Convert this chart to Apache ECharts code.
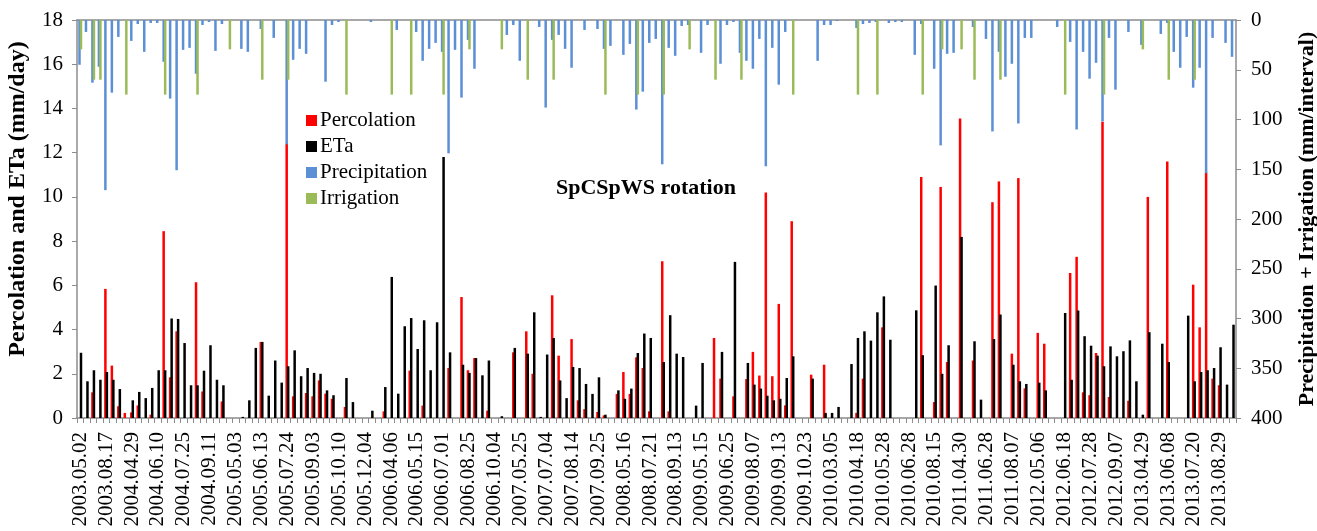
<!DOCTYPE html>
<html>
<head>
<meta charset="utf-8">
<script src="https://cdn.jsdelivr.net/npm/echarts@6/dist/echarts.min.js"></script>
<style>
  html, body { margin: 0; padding: 0; background: #fff; }
  #chart { width: 1317px; height: 531px; }
</style>
</head>
<body>
<div id="chart"></div>
<script>
// dates shown on the x axis (every 4th interval carries a label)
const tickLabels = ['2003.05.02', '2003.08.17', '2004.04.29', '2004.06.10', '2004.07.25', '2004.09.11',
  '2005.05.03', '2005.06.13', '2005.07.24', '2005.09.03', '2005.10.10', '2005.12.04', '2006.04.06',
  '2006.05.15', '2006.07.01', '2006.08.25', '2006.10.04', '2007.05.25', '2007.07.04', '2007.08.14',
  '2007.09.25', '2008.05.16', '2008.07.21', '2008.09.13', '2009.05.15', '2009.06.25', '2009.08.07',
  '2009.09.13', '2009.10.23', '2010.03.05', '2010.04.18', '2010.05.28', '2010.06.28', '2010.08.15',
  '2011.04.30', '2011.06.28', '2011.08.07', '2012.05.06', '2012.06.18', '2012.07.28', '2012.09.07',
  '2013.04.29', '2013.06.08', '2013.07.20', '2013.08.29']
const intervalCount = 179

// mm/day
const percolation = [
  0, 0, 1.16, 0, 5.84, 2.37, 0.53, 0.23, 0.25, 0.57,
  0, 0.15, 0, 8.45, 1.84, 3.92, 0, 0, 6.14, 1.2,
  0, 0, 0.75, 0, 0, 0, 0, 0, 3.44, 0,
  0, 0, 12.4, 0.98, 0, 1.13, 0.98, 1.7, 1.1, 0.87,
  0, 0.5, 0, 0, 0, 0, 0, 0.3, 0, 0,
  0, 2.14, 0, 0.56, 0, 0, 0, 2.26, 0, 5.47,
  2.16, 2.71, 0, 0.33, 0, 0, 0, 2.97, 0, 3.92,
  2.0, 0, 0, 5.55, 2.82, 0, 3.57, 0.8, 0.4, 0,
  0.27, 0.12, 0, 1.09, 2.08, 1.09, 2.74, 2.26, 0.3, 0,
  7.09, 0.3, 0, 0, 0, 0, 0, 0, 3.62, 1.78,
  0, 0.98, 0, 1.76, 2.99, 1.92, 10.2, 1.89, 5.16, 0.57,
  8.9, 0, 0, 1.96, 0, 2.41, 0, 0, 0, 0,
  0.23, 1.78, 0, 0, 4.1, 0, 0, 0, 0, 0,
  10.9, 0, 0.72, 10.45, 2.53, 0, 13.55, 0, 2.6, 0,
  0, 9.76, 10.7, 0, 2.91, 10.85, 1.34, 0, 3.85, 3.36,
  0, 0, 0, 6.56, 7.29, 1.16, 1.03, 2.94, 13.4, 0.95,
  0, 0, 0.78, 0, 0, 10.0, 0, 0, 11.6, 0,
  0, 0, 6.03, 4.1, 11.1, 1.78, 1.48, 0, 0
]
const eta = [
  2.95, 1.66, 2.16, 1.73, 2.08, 1.73, 1.31, 0, 0.8, 1.18,
  0.9, 1.36, 2.16, 2.16, 4.5, 4.48, 3.39, 1.48, 1.48, 2.14,
  3.29, 1.73, 1.48, 0, 0, 0.05, 0.8, 3.17, 3.44, 1.01,
  2.6, 1.6, 2.34, 3.06, 1.89, 2.26, 2.04, 2.0, 1.25, 1.03,
  0, 1.81, 0.72, 0, 0, 0.33, 0, 1.4, 6.38, 1.1,
  4.15, 4.52, 3.12, 4.42, 2.16, 4.33, 11.8, 2.97, 0, 2.41,
  2.04, 2.71, 1.93, 2.6, 0, 0.08, 0, 3.17, 0, 2.91,
  4.78, 0.05, 2.87, 3.62, 1.7, 0.9, 2.31, 2.26, 1.54, 1.09,
  1.84, 0.15, 0, 1.25, 0.87, 1.33, 2.94, 3.82, 3.62, 0,
  2.53, 4.65, 2.91, 2.76, 0, 0.56, 2.49, 0, 0, 2.99,
  0, 7.06, 0, 2.49, 1.51, 1.33, 1.01, 0.8, 0.87, 1.81,
  2.79, 0, 0, 1.78, 0, 0.23, 0.23, 0.5, 0, 2.44,
  3.62, 3.92, 3.5, 4.78, 5.5, 3.54, 0, 0, 0, 4.87,
  2.84, 0, 5.99, 2.0, 3.29, 0, 8.19, 0, 3.47, 0.83,
  0, 3.57, 4.68, 0, 2.41, 1.66, 1.54, 0, 1.6, 1.25,
  0, 0, 4.75, 1.73, 4.86, 3.7, 3.27, 2.82, 2.34, 3.24,
  2.79, 3.02, 3.51, 1.66, 0.15, 3.88, 0, 3.36, 2.53, 0,
  0, 4.63, 1.66, 2.08, 2.16, 2.26, 3.2, 1.51, 4.22
]
// mm/interval
const precipitation = [
  45, 12, 63, 47, 171, 73, 17, 0, 21, 4,
  32, 3, 3, 42, 79, 151, 30, 28, 54, 5,
  2, 31, 4, 0, 0, 29, 32, 0, 9, 0,
  18, 0, 125, 40, 29, 34, 0, 0, 62, 5,
  2, 0, 0, 0, 0, 2, 0, 0, 0, 10,
  0, 0, 12, 41, 29, 23, 32, 134, 30, 78,
  20, 49, 0, 0, 0, 0, 15, 5, 41, 0,
  0, 7, 88, 20, 15, 29, 48, 0, 10, 0,
  9, 29, 26, 0, 35, 24, 90, 72, 23, 19,
  145, 28, 36, 6, 5, 0, 33, 5, 0, 44,
  5, 2, 33, 41, 49, 19, 147, 28, 65, 12,
  0, 0, 0, 0, 41, 5, 5, 1, 0, 0,
  8, 4, 3, 2, 0, 3, 2, 2, 0, 35,
  4, 0, 49, 126, 34, 33, 0, 0, 7, 0,
  19, 112, 32, 57, 44, 104, 18, 18, 0, 0,
  0, 7, 0, 22, 110, 32, 59, 43, 102, 18,
  70, 0, 12, 0, 25, 0, 0, 14, 3, 32,
  48, 17, 68, 48, 154, 18, 0, 23, 37
]
const irrigation = [
  29.5, 0, 60, 60, 0, 0, 0, 75, 0, 0,
  0, 0, 0, 75, 0, 0, 0, 0, 75, 0,
  0, 0, 0, 29.5, 0, 0, 0, 0, 60, 0,
  0, 0, 60, 0, 0, 0, 0, 0, 0, 0,
  0, 75, 0, 0, 0, 0, 0, 0, 75, 0,
  0, 75, 0, 0, 0, 0, 75, 0, 0, 0,
  29.5, 0, 0, 0, 0, 29.5, 0, 0, 0, 60,
  0, 0, 0, 60, 0, 0, 0, 0, 0, 0,
  0, 75, 0, 0, 0, 0, 75, 0, 0, 0,
  75, 0, 0, 0, 29.5, 0, 0, 0, 60, 0,
  0, 0, 60, 0, 0, 0, 0, 0, 0, 0,
  75, 0, 0, 0, 0, 0, 0, 0, 0, 0,
  75, 0, 0, 75, 0, 0, 0, 0, 0, 0,
  75, 0, 0, 29.5, 0, 0, 29.5, 0, 60, 0,
  0, 0, 60, 0, 0, 0, 0, 0, 0, 0,
  0, 0, 75, 0, 0, 0, 0, 0, 75, 0,
  0, 0, 0, 0, 29.5, 0, 0, 0, 60, 0,
  0, 0, 60, 0, 0, 0, 0, 0, 0
]

// one category per interval; only the labelled ones carry a real date
const categories = []
for (let i = 0; i < intervalCount; i++) {
  const k = Math.floor(i / 4)
  categories.push(i % 4 === 0 ? tickLabels[k] : tickLabels[k] + '+' + (i % 4))
}

const serif = 'Liberation Serif'
const axisGray = '#8c8c8c'

const chart = echarts.init(document.getElementById('chart'))
chart.setOption({
  animation: false,
  textStyle: { fontFamily: serif, color: '#000' },
  title: {
    text: 'SpCSpWS rotation',
    left: 551,
    top: 172,
    textStyle: { fontFamily: serif, fontSize: 22, fontWeight: 'bold', color: '#000' }
  },
  legend: {
    orient: 'vertical',
    left: 301,
    top: 105,
    itemWidth: 11,
    itemHeight: 11,
    itemGap: 5,
    icon: 'rect',
    textStyle: { fontFamily: serif, fontSize: 21, color: '#000', padding: [0, 0, 0, -2] },
    data: ['Percolation', 'ETa', 'Precipitation', 'Irrigation']
  },
  // keep the plot box fixed even though the axis names reach the page edge
  grid: { left: 77, right: 81, top: 20, bottom: 113, containLabel: false, outerBoundsMode: 'none' },
  xAxis: [{
    type: 'category',
    data: categories,
    boundaryGap: true,
    axisLine: { lineStyle: { color: axisGray, width: 1.5 } },
    axisTick: { show: true, interval: 0, length: 5, lineStyle: { color: axisGray } },
    axisLabel: {
      interval: 3,
      rotate: 90,
      margin: 14,
      fontFamily: serif,
      fontSize: 21,
      color: '#000'
    },
    splitLine: { show: false }
  }, {
    type: 'category',
    data: categories,
    position: 'top',
    boundaryGap: true,
    axisLine: { lineStyle: { color: axisGray, width: 1.5 } },
    axisTick: { show: false },
    axisLabel: { show: false },
    splitLine: { show: false }
  }],
  yAxis: [{
    type: 'value',
    min: 0,
    max: 18,
    interval: 2,
    name: 'Percolation and ETa (mm/day)',
    nameLocation: 'middle',
    nameRotate: 90,
    nameGap: 47,
    nameTextStyle: { fontFamily: serif, fontSize: 24, fontWeight: 'bold', color: '#000', padding: [0, 0, 0, 40] },
    axisLine: { show: true, lineStyle: { color: axisGray, width: 1.5 } },
    axisTick: { show: true, length: 5, lineStyle: { color: axisGray } },
    axisLabel: { margin: 14, fontFamily: serif, fontSize: 21, color: '#000' },
    splitLine: { show: false }
  }, {
    type: 'value',
    min: 0,
    max: 400,
    interval: 50,
    inverse: true,
    position: 'right',
    name: 'Precipitation + Irrigation (mm/interval)',
    nameLocation: 'middle',
    nameRotate: 90,
    nameGap: 60,
    nameTextStyle: { fontFamily: serif, fontSize: 22, fontWeight: 'bold', color: '#000' },
    axisLine: { show: true, lineStyle: { color: axisGray, width: 1.5 } },
    axisTick: { show: true, length: 5, lineStyle: { color: axisGray } },
    axisLabel: { margin: 15, fontFamily: serif, fontSize: 21, color: '#000' },
    splitLine: { show: false }
  }],
  series: [{
    name: 'Percolation',
    type: 'bar',
    xAxisIndex: 0,
    yAxisIndex: 0,
    barWidth: 2.5,
    barGap: '-40%',
    itemStyle: { color: '#ff0000' },
    data: percolation
  }, {
    name: 'ETa',
    type: 'bar',
    xAxisIndex: 0,
    yAxisIndex: 0,
    barWidth: 2.5,
    barGap: '-40%',
    itemStyle: { color: '#000000' },
    data: eta
  }, {
    name: 'Precipitation',
    type: 'bar',
    xAxisIndex: 1,
    yAxisIndex: 1,
    barWidth: 2.5,
    barGap: '-40%',
    itemStyle: { color: '#5b8fd6' },
    data: precipitation
  }, {
    name: 'Irrigation',
    type: 'bar',
    xAxisIndex: 1,
    yAxisIndex: 1,
    barWidth: 2.5,
    barGap: '-40%',
    itemStyle: { color: '#9bbb59' },
    data: irrigation
  }]
})
</script>
</body>
</html>
